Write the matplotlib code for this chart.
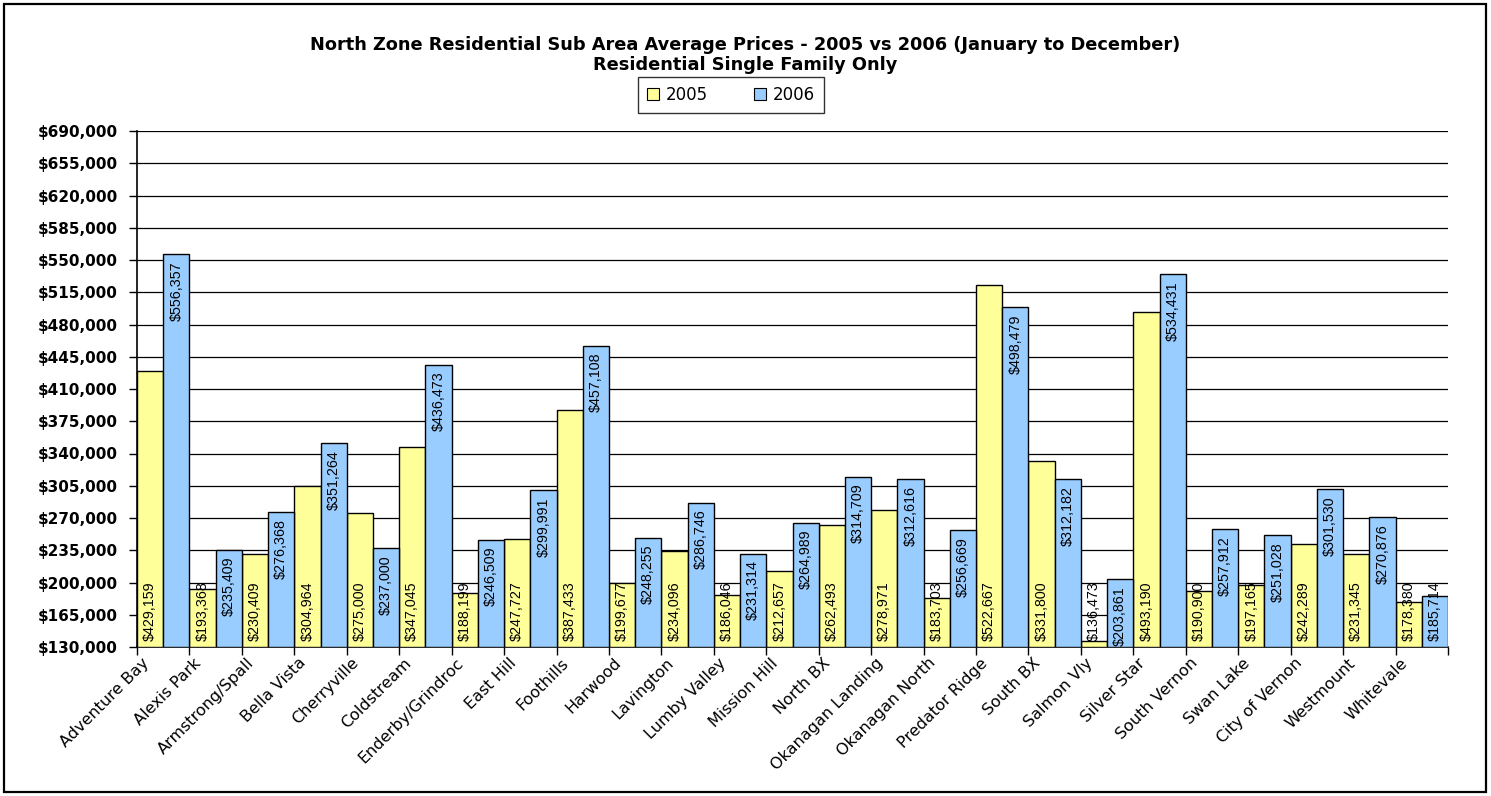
import matplotlib
matplotlib.use("Agg")
import matplotlib.pyplot as plt
import matplotlib.patches as mpatches
import matplotlib.transforms as mtransforms
from matplotlib.ticker import FuncFormatter
import numpy as np

plt.rcParams['font.family'] = ['DejaVu Sans']

areas = ["Adventure Bay", "Alexis Park", "Armstrong/Spall", "Bella Vista", "Cherryville",
         "Coldstream", "Enderby/Grindroc", "East Hill", "Foothills", "Harwood", "Lavington",
         "Lumby Valley", "Mission Hill", "North BX", "Okanagan Landing", "Okanagan North",
         "Predator Ridge", "South BX", "Salmon Vly", "Silver Star", "South Vernon",
         "Swan Lake", "City of Vernon", "Westmount", "Whitevale"]
prices_2005 = [429159, 193368, 230409, 304964, 275000, 347045, 188199, 247727, 387433,
               199677, 234096, 186046, 212657, 262493, 278971, 183703, 522667, 331800,
               136473, 493190, 190900, 197165, 242289, 231345, 178380]
prices_2006 = [556357, 235409, 276368, 351264, 237000, 436473, 246509, 299991, 457108,
               248255, 286746, 231314, 264989, 314709, 312616, 256669, 498479, 312182,
               203861, 534431, 257912, 251028, 301530, 270876, 185714]
series_names = ["2005", "2006"]
y_ticks = list(range(130000, 690001, 35000))

W, H = 1491, 796
fig = plt.figure(figsize=(W / 100, H / 100), dpi=100)
fig.patch.set_facecolor("white")
fig.patches.append(mpatches.Rectangle((4 / W, 4 / H), 1 - 9 / W, 1 - 8 / H,
                                      transform=fig.transFigure, fill=False,
                                      edgecolor="black", linewidth=1.6))

ax = fig.add_axes([137 / W, 1 - 647 / H, (1448 - 137) / W, (647 - 131) / H])
n = len(areas)
x = np.arange(n)
w = 0.5
c05, c06 = "#FFFF99", "#99CCFF"
ymin, ymax = y_ticks[0], y_ticks[-1]
ax.bar(x - w / 2, [v - ymin for v in prices_2005], w, bottom=ymin, color=c05,
       edgecolor="black", linewidth=1.0, label=series_names[0], zorder=3)
ax.bar(x + w / 2, [v - ymin for v in prices_2006], w, bottom=ymin, color=c06,
       edgecolor="black", linewidth=1.0, label=series_names[1], zorder=3)

ax.set_xlim(-0.5, n - 0.5)
ax.set_ylim(ymin, ymax)
ax.set_yticks(y_ticks)
ax.yaxis.set_major_formatter(FuncFormatter(lambda v, p: "${:,.0f}".format(v)))
ax.tick_params(axis="y", length=6, width=1, pad=8, labelsize=11)
for t in ax.get_yticklabels():
    t.set_fontweight("bold")

ax.set_xticks(np.arange(n + 1) - 0.5)
ax.set_xticklabels([])
ax.tick_params(axis="x", which="major", length=6, width=1)
ax.set_xticks(x, minor=True)
ax.set_xticklabels(areas, minor=True, rotation=45, ha="right", rotation_mode="anchor",
                   fontsize=11.5)
ax.tick_params(axis="x", which="minor", length=0, pad=6)
shift = mtransforms.ScaledTranslation(-22 / 100, 0, fig.dpi_scale_trans)
for t in ax.get_xticklabels(minor=True):
    t.set_transform(t.get_transform() + shift)

ax.yaxis.grid(True, color="black", linewidth=0.9, zorder=0)
ax.set_axisbelow(True)
for s in ["top", "right"]:
    ax.spines[s].set_visible(False)
ax.spines["left"].set_linewidth(1.2)
ax.spines["bottom"].set_linewidth(1.2)

lab_fs = 10.3
lab_font = "Liberation Sans"
for xi, v in zip(x - w / 2, prices_2005):
    ax.annotate("${:,.0f}".format(v), xy=(xi, ymin), xytext=(0, 4), textcoords="offset points",
                rotation=90, ha="center", va="bottom", fontsize=lab_fs, family=lab_font,
                zorder=4)
for xi, v in zip(x + w / 2, prices_2006):
    if v - ymin < 72000:
        ax.annotate("${:,.0f}".format(v), xy=(xi, ymin), xytext=(0, 4),
                    textcoords="offset points", rotation=90, ha="center", va="bottom",
                    fontsize=lab_fs, family=lab_font, zorder=4)
    else:
        ax.annotate("${:,.0f}".format(v), xy=(xi, v), xytext=(0, -5),
                    textcoords="offset points", rotation=90, ha="center", va="top",
                    fontsize=lab_fs, family=lab_font, zorder=4)

fig.text(0.5, 1 - 45 / H, "North Zone Residential Sub Area Average Prices - 2005 vs 2006 (January to December)",
         ha="center", va="center", fontsize=12.8, fontweight="bold")
fig.text(0.5, 1 - 65 / H, "Residential Single Family Only",
         ha="center", va="center", fontsize=12.8, fontweight="bold")

handles = [mpatches.Patch(facecolor=c05, edgecolor="black", linewidth=0.8),
           mpatches.Patch(facecolor=c06, edgecolor="black", linewidth=0.8)]
leg = fig.legend(handles, series_names, loc="center", bbox_to_anchor=(731 / W, 1 - 95 / H),
                 ncol=2, fontsize=12, frameon=True, fancybox=False, shadow=False,
                 handlelength=0.7, handleheight=0.7, handletextpad=0.4, columnspacing=2.8,
                 borderpad=0.55)
leg.get_frame().set_edgecolor("black")
leg.get_frame().set_linewidth(1.0)

fig.savefig("out.png", dpi=100)
